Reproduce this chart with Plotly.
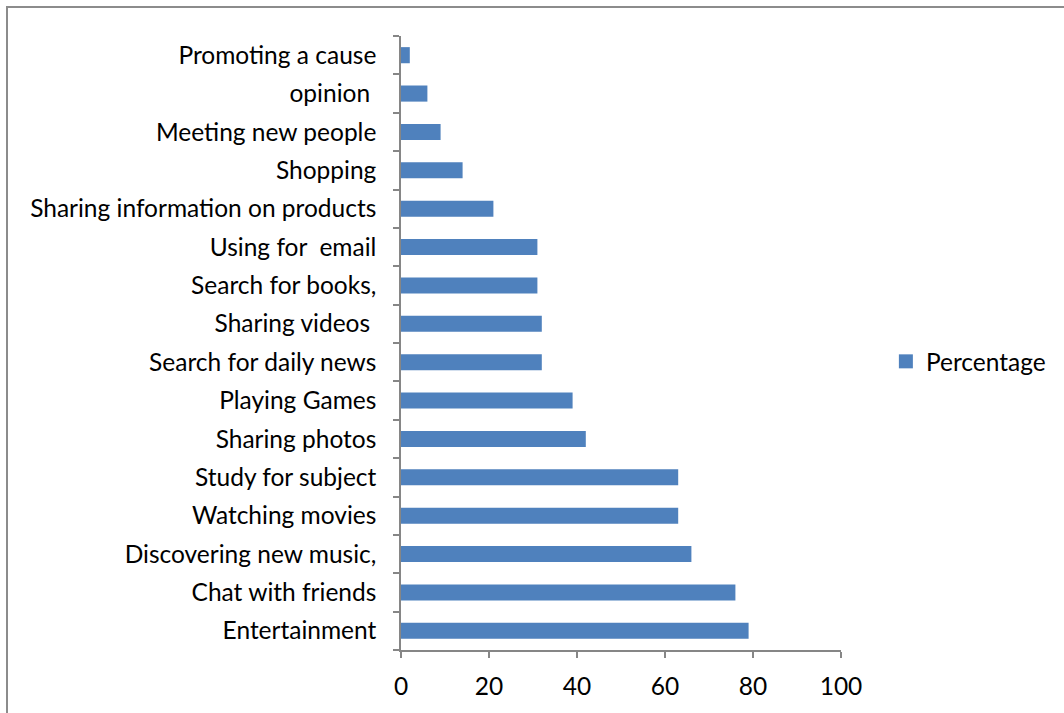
import plotly.graph_objects as go

# Activities, listed from the bottom bar to the top bar
activities = [
    "Entertainment",
    "Chat with friends",
    "Discovering new music,",
    "Watching movies",
    "Study for subject",
    "Sharing photos",
    "Playing Games",
    "Search for daily news",
    "Sharing videos\u00a0",
    "Search for books,",
    "Using for\u00a0\u00a0email",
    "Sharing information on products",
    "Shopping",
    "Meeting new people",
    "opinion\u00a0",
    "Promoting a cause",
]
percentage = [79, 76, 66, 63, 63, 42, 39, 32, 32, 31, 31, 21, 14, 9, 6, 2]
x_ticks = [0, 20, 40, 60, 80, 100]

BAR_COLOR = "#4F81BD"
AXIS_COLOR = "#868686"
FONT = "Lato, Open Sans, sans-serif"
FONT_SIZE = 24.5

fig = go.Figure()
fig.add_trace(
    go.Bar(
        x=percentage,
        y=activities,
        orientation="h",
        name="Percentage",
        marker=dict(color=BAR_COLOR, line=dict(width=0)),
        showlegend=False,
    )
)
# Legend key: a larger filled square than the default bar swatch
fig.add_trace(
    go.Scatter(
        x=[None],
        y=[None],
        mode="markers",
        name="Percentage",
        marker=dict(symbol="square", size=14, color=BAR_COLOR),
        showlegend=True,
        hoverinfo="skip",
    )
)

fig.update_layout(
    width=1064,
    height=713,
    margin=dict(l=401, r=223, t=36, b=63),
    paper_bgcolor="white",
    plot_bgcolor="white",
    bargap=0.58,
    font=dict(family=FONT, size=FONT_SIZE, color="#000000"),
    showlegend=True,
    legend=dict(
        x=1.102,
        y=0.47,
        xanchor="left",
        yanchor="middle",
        font=dict(size=FONT_SIZE),
        itemwidth=30,
        bgcolor="rgba(0,0,0,0)",
    ),
    xaxis=dict(
        range=[0, 100],
        tickvals=x_ticks,
        ticks="outside",
        ticklen=6,
        tickwidth=1.5,
        tickcolor=AXIS_COLOR,
        showline=True,
        linecolor=AXIS_COLOR,
        linewidth=1.5,
        showgrid=False,
        zeroline=False,
        ticklabelstandoff=8,
    ),
    yaxis=dict(
        type="category",
        categoryorder="array",
        categoryarray=activities,
        ticks="outside",
        tickson="boundaries",
        ticklen=6,
        tickwidth=1.5,
        tickcolor=AXIS_COLOR,
        showline=True,
        linecolor=AXIS_COLOR,
        linewidth=1.5,
        showgrid=False,
        zeroline=False,
        ticklabelstandoff=18,
    ),
    shapes=[
        dict(
            type="rect",
            xref="paper",
            yref="paper",
            x0=(7 - 401) / 440,
            x1=(1080 - 401) / 440,
            y0=(650 - 730) / 614,
            y1=(650 - 7) / 614,
            line=dict(color="#8c8c8c", width=2),
            fillcolor="rgba(0,0,0,0)",
            layer="below",
        )
    ],
)

fig.write_html("out.html")
